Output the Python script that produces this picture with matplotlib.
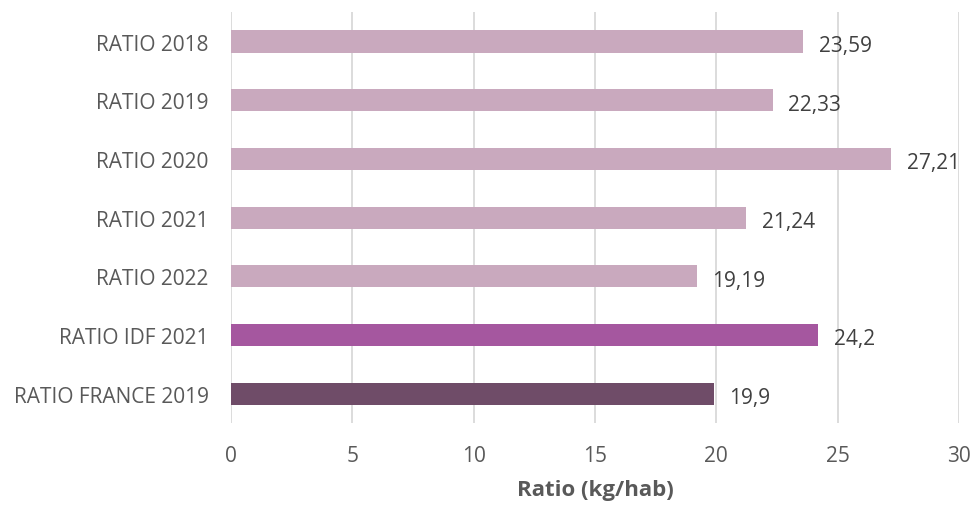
import matplotlib.pyplot as plt

# Data
categories = ['RATIO 2018', 'RATIO 2019', 'RATIO 2020', 'RATIO 2021',
              'RATIO 2022', 'RATIO IDF 2021', 'RATIO FRANCE 2019']
values = [23.59, 22.33, 27.21, 21.24, 19.19, 24.2, 19.9]
value_labels = ['23,59', '22,33', '27,21', '21,24', '19,19', '24,2', '19,9']
colors = ['#C9A9BE'] * 5 + ['#A5579F', '#6F4C68']
xticks = [0, 5, 10, 15, 20, 25, 30]

plt.rcParams['font.family'] = ['Open Sans', 'DejaVu Sans']
txt_color = '#595959'

fig = plt.figure(figsize=(9.73, 5.06), dpi=100)
ax = fig.add_axes([0.2374, 0.162, 0.7482, 0.812])

ypos = list(range(len(categories)))
ax.barh(ypos, values, height=0.375, color=colors, zorder=2)

for y, v, lab in zip(ypos, values, value_labels):
    ax.annotate(lab, (v, y), xytext=(11, -1), textcoords='offset points',
                ha='left', va='center_baseline', fontsize=15, color='#404040')

ax.set_ylim(len(categories) - 0.5, -0.5)
ax.set_xlim(0, 30)
ax.set_xticks(xticks)
ax.set_yticks(ypos)
ax.set_yticklabels(categories, fontsize=15, color=txt_color)
ax.tick_params(axis='x', labelsize=15, labelcolor=txt_color, length=0, pad=16)
ax.tick_params(axis='y', length=0, pad=16)
ax.grid(axis='x', color='#D9D9D9', linewidth=1.3, zorder=0)
for s in ax.spines.values():
    s.set_visible(False)

ax.set_xlabel('Ratio (kg/hab)', fontsize=16, fontweight='bold', color=txt_color, labelpad=9)

fig.savefig('out.png', dpi=100)
